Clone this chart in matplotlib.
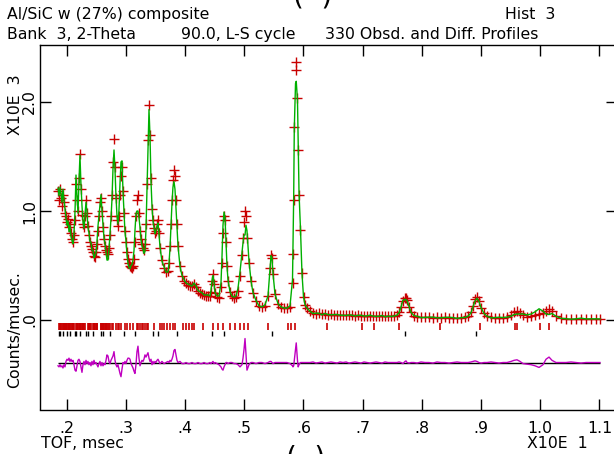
import matplotlib
matplotlib.use("Agg")
import matplotlib.pyplot as plt
import numpy as np

# ---------------- data ----------------
tof = [
    0.1855, 0.1872, 0.1889, 0.1905, 0.1922, 0.1939, 0.1956, 0.1973, 0.1990, 0.2007,
    0.2024, 0.2041, 0.2057, 0.2074, 0.2091, 0.2108, 0.2125, 0.2142, 0.2159, 0.2176,
    0.2193, 0.2209, 0.2226, 0.2243, 0.2260, 0.2277, 0.2294, 0.2311, 0.2328, 0.2345,
    0.2361, 0.2378, 0.2395, 0.2412, 0.2429, 0.2446, 0.2463, 0.2480, 0.2497, 0.2514,
    0.2530, 0.2547, 0.2564, 0.2581, 0.2598, 0.2615, 0.2632, 0.2649, 0.2666, 0.2682,
    0.2699, 0.2716, 0.2733, 0.2750, 0.2767, 0.2784, 0.2801, 0.2818, 0.2834, 0.2851,
    0.2868, 0.2885, 0.2902, 0.2919, 0.2936, 0.2953, 0.2970, 0.2986, 0.3003, 0.3020,
    0.3037, 0.3054, 0.3071, 0.3088, 0.3105, 0.3122, 0.3139, 0.3155, 0.3172, 0.3189,
    0.3206, 0.3223, 0.3240, 0.3257, 0.3274, 0.3291, 0.3307, 0.3324, 0.3341, 0.3358,
    0.3375, 0.3392, 0.3409, 0.3426, 0.3443, 0.3459, 0.3476, 0.3493, 0.3510, 0.3527,
    0.3544, 0.3561, 0.3578, 0.3611, 0.3645, 0.3679, 0.3713, 0.3730, 0.3747, 0.3764,
    0.3780, 0.3797, 0.3814, 0.3831, 0.3848, 0.3865, 0.3882, 0.3916, 0.3949, 0.3983,
    0.4017, 0.4051, 0.4084, 0.4118, 0.4152, 0.4186, 0.4220, 0.4253, 0.4287, 0.4321,
    0.4355, 0.4389, 0.4422, 0.4439, 0.4456, 0.4473, 0.4490, 0.4507, 0.4541, 0.4574,
    0.4608, 0.4625, 0.4642, 0.4659, 0.4676, 0.4693, 0.4709, 0.4726, 0.4760, 0.4794,
    0.4828, 0.4861, 0.4895, 0.4929, 0.4963, 0.4980, 0.4997, 0.5014, 0.5030, 0.5047,
    0.5081, 0.5115, 0.5149, 0.5199, 0.5250, 0.5301, 0.5351, 0.5402, 0.5436, 0.5453,
    0.5470, 0.5486, 0.5520, 0.5571, 0.5622, 0.5672, 0.5723, 0.5774, 0.5816, 0.5824,
    0.5836, 0.5846, 0.5867, 0.5879, 0.5900, 0.5912, 0.5926, 0.5951, 0.5976, 0.6002,
    0.6027, 0.6061, 0.6111, 0.6162, 0.6213, 0.6264, 0.6314, 0.6365, 0.6416, 0.6466,
    0.6517, 0.6568, 0.6618, 0.6669, 0.6720, 0.6770, 0.6821, 0.6872, 0.6922, 0.6973,
    0.7024, 0.7074, 0.7125, 0.7176, 0.7226, 0.7277, 0.7328, 0.7378, 0.7429, 0.7480,
    0.7530, 0.7581, 0.7615, 0.7649, 0.7682, 0.7716, 0.7733, 0.7750, 0.7784, 0.7818,
    0.7868, 0.7919, 0.7987, 0.8054, 0.8122, 0.8189, 0.8257, 0.8324, 0.8392, 0.8459,
    0.8527, 0.8595, 0.8662, 0.8730, 0.8780, 0.8831, 0.8865, 0.8899, 0.8932, 0.8966,
    0.9000, 0.9051, 0.9101, 0.9169, 0.9236, 0.9304, 0.9372, 0.9439, 0.9507, 0.9557,
    0.9608, 0.9659, 0.9709, 0.9777, 0.9845, 0.9912, 0.9980, 1.0047, 1.0098, 1.0149,
    1.0199, 1.0267, 1.0351, 1.0436, 1.0520, 1.0605, 1.0689, 1.0774, 1.0858, 1.0943,
    1.1010,
]

obs = [
    1.18, 1.10, 1.20, 1.12, 1.05, 1.15, 1.08, 0.98, 0.95, 0.90,
    0.93, 0.85, 0.88, 0.80, 0.74, 0.72, 0.78, 0.92, 1.25, 1.10,
    1.00, 1.30, 1.52, 1.20, 0.96, 0.88, 0.85, 0.95, 1.10, 0.98,
    0.86, 0.78, 0.72, 0.68, 0.65, 0.62, 0.59, 0.58, 0.62, 0.70,
    0.82, 0.95, 1.08, 1.12, 1.00, 0.85, 0.74, 0.68, 0.64, 0.62,
    0.61, 0.66, 0.78, 0.95, 1.15, 1.45, 1.66, 1.40, 1.12, 0.92,
    0.86, 0.95, 1.15, 1.32, 1.40, 1.18, 0.98, 0.82, 0.72, 0.62,
    0.56, 0.52, 0.50, 0.49, 0.48, 0.50, 0.56, 0.72, 0.95, 1.10,
    1.15, 0.98, 0.82, 0.74, 0.70, 0.66, 0.64, 0.70, 0.88, 1.25,
    1.65, 1.97, 1.70, 1.30, 1.02, 0.92, 0.84, 0.80, 0.82, 0.88,
    0.92, 0.80, 0.66, 0.55, 0.48, 0.44, 0.45, 0.52, 0.68, 0.88,
    1.10, 1.28, 1.38, 1.32, 1.10, 0.88, 0.68, 0.50, 0.40, 0.36,
    0.34, 0.32, 0.31, 0.31, 0.33, 0.30, 0.27, 0.25, 0.24, 0.23,
    0.22, 0.22, 0.22, 0.26, 0.36, 0.42, 0.33, 0.25, 0.21, 0.20,
    0.30, 0.52, 0.80, 0.95, 0.92, 0.72, 0.50, 0.36, 0.26, 0.22,
    0.20, 0.21, 0.27, 0.40, 0.60, 0.75, 0.90, 1.00, 0.95, 0.75,
    0.52, 0.36, 0.25, 0.17, 0.13, 0.12, 0.13, 0.22, 0.48, 0.60,
    0.57, 0.42, 0.24, 0.15, 0.12, 0.11, 0.11, 0.12, 0.34, 0.61,
    1.10, 1.77, 2.29, 2.37, 2.04, 1.56, 1.15, 0.83, 0.43, 0.21,
    0.14, 0.11, 0.08, 0.065, 0.058, 0.062, 0.052, 0.056, 0.049, 0.053,
    0.049, 0.046, 0.049, 0.044, 0.046, 0.042, 0.045, 0.041, 0.043, 0.039,
    0.041, 0.038, 0.040, 0.036, 0.038, 0.035, 0.037, 0.034, 0.036, 0.033,
    0.036, 0.045, 0.070, 0.120, 0.170, 0.200, 0.200, 0.180, 0.120, 0.070,
    0.040, 0.030, 0.027, 0.024, 0.026, 0.022, 0.025, 0.021, 0.024, 0.020,
    0.023, 0.020, 0.022, 0.024, 0.035, 0.070, 0.130, 0.190, 0.210, 0.170,
    0.110, 0.060, 0.035, 0.025, 0.022, 0.021, 0.023, 0.026, 0.045, 0.070,
    0.080, 0.065, 0.045, 0.032, 0.035, 0.045, 0.058, 0.062, 0.085, 0.100,
    0.080, 0.035, 0.015, 0.012, 0.013, 0.011, 0.012, 0.010, 0.011, 0.010,
    0.010,
]

diff = [
    -0.03, -0.04, -0.02, -0.04, -0.03, -0.05, -0.02, -0.04, 0.01, 0.03,
    0.02, 0.04, 0.01, 0.03, 0.01, 0.02, -0.02, -0.07, -0.08, -0.03,
    0.02, 0.03, 0.01, -0.04, -0.09, -0.02, 0.01, -0.02, 0.02, -0.01,
    0.01, -0.02, 0.00, -0.03, 0.01, -0.02, 0.02, -0.01, 0.00, -0.02,
    -0.04, -0.01, 0.01, -0.03, 0.00, -0.03, -0.01, -0.02, 0.02, 0.07,
    0.06, 0.01, -0.01, 0.02, 0.04, 0.06, 0.10, 0.02, -0.02, -0.04,
    -0.02, -0.06, -0.10, -0.13, -0.06, 0.00, -0.01, 0.01, -0.01, 0.02,
    0.04, 0.04, 0.03, -0.01, -0.03, -0.05, -0.08, -0.10, -0.02, 0.10,
    0.15, 0.04, -0.03, 0.00, 0.02, 0.01, 0.03, 0.07, 0.05, 0.07,
    0.09, 0.04, 0.01, 0.03, -0.02, 0.01, -0.01, 0.01, 0.00, 0.02,
    0.03, 0.01, -0.01, 0.01, -0.01, 0.00, 0.01, 0.00, 0.02, 0.01,
    0.03, 0.06, 0.11, 0.12, 0.07, 0.02, 0.00, 0.01, -0.01, -0.01,
    0.00, -0.01, -0.01, 0.00, -0.01, -0.01, 0.00, -0.01, -0.01, 0.00,
    -0.01, -0.01, 0.00, -0.01, 0.00, 0.01, -0.01, 0.00, -0.01, -0.02,
    -0.04, -0.06, -0.07, -0.04, -0.02, 0.00, 0.00, -0.01, 0.00, 0.00,
    -0.01, -0.01, -0.02, -0.04, -0.02, 0.04, 0.12, 0.22, 0.08, -0.07,
    -0.02, 0.00, 0.00, -0.01, 0.00, 0.00, -0.01, 0.00, 0.01, 0.01,
    0.00, -0.01, 0.00, 0.00, 0.00, 0.00, 0.00, -0.01, -0.03, -0.04,
    -0.03, 0.02, 0.12, 0.18, 0.02, -0.04, -0.02, 0.00, 0.00, 0.00,
    0.00, 0.00, 0.00, 0.005, -0.005, 0.00, 0.005, -0.005, 0.00, 0.005,
    0.00, -0.005, 0.005, 0.00, 0.005, -0.005, 0.00, 0.005, 0.00, -0.005,
    0.005, 0.00, -0.005, 0.00, 0.005, 0.00, -0.005, 0.005, 0.00, 0.00,
    0.00, 0.00, 0.005, 0.00, -0.01, 0.01, 0.015, 0.00, -0.005, 0.00,
    0.00, -0.005, 0.005, 0.00, 0.00, -0.005, 0.005, 0.00, 0.00, -0.005,
    0.00, 0.005, 0.00, 0.00, 0.00, 0.005, 0.01, 0.015, 0.01, 0.00,
    -0.005, 0.00, 0.00, 0.005, 0.00, -0.005, 0.00, 0.00, 0.01, 0.02,
    0.025, 0.01, -0.01, -0.015, -0.02, -0.03, -0.045, -0.02, 0.03, 0.05,
    0.02, 0.00, 0.00, 0.00, 0.005, 0.00, -0.005, 0.00, 0.00, 0.00,
    0.00,
]

# reflection positions (phase 1: red ticks, phase 2: black ticks)
refl_phase1 = [
    0.1872, 0.1884, 0.1897, 0.1910, 0.1922, 0.1935, 0.1948, 0.1960, 0.1973, 0.1986,
    0.1998, 0.2011, 0.2024, 0.2036, 0.2049, 0.2062, 0.2074, 0.2087, 0.2100, 0.2112,
    0.2125, 0.2159, 0.2172, 0.2184, 0.2197, 0.2209, 0.2222, 0.2235, 0.2248, 0.2260,
    0.2273, 0.2285, 0.2298, 0.2311, 0.2361, 0.2374, 0.2387, 0.2399, 0.2412, 0.2446,
    0.2459, 0.2471, 0.2484, 0.2497, 0.2510, 0.2522, 0.2573, 0.2586, 0.2598, 0.2611,
    0.2623, 0.2636, 0.2649, 0.2661, 0.2674, 0.2687, 0.2699, 0.2712, 0.2725, 0.2762,
    0.2789, 0.2834, 0.2863, 0.2890, 0.2919, 0.2986, 0.3025, 0.3071, 0.3117, 0.3184,
    0.3211, 0.3240, 0.3269, 0.3296, 0.3324, 0.3353, 0.3380, 0.3481, 0.3578, 0.3606,
    0.3645, 0.3691, 0.3747, 0.3802, 0.3831, 0.3971, 0.4017, 0.4073, 0.4113, 0.4152,
    0.4309, 0.4478, 0.4552, 0.4637, 0.4760, 0.4845, 0.4929, 0.4997, 0.5069, 0.5407,
    0.5745, 0.5786, 0.5858, 0.6394, 0.6985, 0.7193, 0.7615, 0.8307, 0.8983, 0.9574,
    0.9603, 0.9997, 1.0154,
]
refl_phase2 = [
    0.1876, 0.1889, 0.1932, 0.2014, 0.2066, 0.2144, 0.2166, 0.2231, 0.2331, 0.2358,
    0.2444, 0.2576, 0.2613, 0.2733, 0.2976, 0.3155, 0.3459, 0.3548, 0.3866, 0.4456,
    0.4659, 0.5470, 0.7716, 0.8916,
]

xticks = [0.2, 0.3, 0.4, 0.5, 0.6, 0.7, 0.8, 0.9, 1.0, 1.1]
xtick_labels = [".2", ".3", ".4", ".5", ".6", ".7", ".8", ".9", "1.0", "1.1"]
yticks = [0.0, 1.0, 2.0]
ytick_labels = [".0", "1.0", "2.0"]

title1 = "Al/SiC w (27%) composite"
hist_label = "Hist  3"
title2a = "Bank  3, 2-Theta"
title2b = "90.0, L-S cycle"
title2c = "330 Obsd. and Diff. Profiles"
xlabel = "TOF, msec"
xscale_label = "X10E  1"
yscale_label = "X10E  3"
ylabel = "Counts/musec."

# ---------------- styling ----------------
RED = "#c80000"
GREEN = "#00b000"
MAGENTA = "#c000c0"
DIFF_OFFSET = -0.39

plt.rcParams["font.family"] = ["DejaVu Sans"]
FS = 11.3

W, H = 614, 454
fig = plt.figure(figsize=(W / 100, H / 100), dpi=100)
fig.patch.set_facecolor("white")


def fx(px):
    return px / W


def fy(py):
    return 1 - py / H


ax = fig.add_axes([fx(40), fy(409.5), (617 - 40) / W, (409.5 - 45) / H])
ax.set_xlim(0.1551, 1.1297)
ax.set_ylim(-0.821, 2.523)

tof_a = np.array(tof)
obs_a = np.array(obs)
diff_a = np.array(diff)
calc_a = obs_a - diff_a

ax.plot(tof_a, obs_a, linestyle="none", marker="+", color=RED, ms=6.5, mew=1.0, zorder=2)
ax.plot(tof_a, calc_a, color=GREEN, lw=1.0, zorder=3)

ax.vlines(refl_phase1, -0.092, -0.030, color=RED, lw=1.2, zorder=2)
ax.vlines(refl_phase2, -0.145, -0.098, color="black", lw=1.0, zorder=2)

ax.hlines(DIFF_OFFSET, tof_a[0], tof_a[-1], color="black", lw=1.0, zorder=2)
ax.plot(tof_a, diff_a + DIFF_OFFSET, color=MAGENTA, lw=1.0, zorder=3)

ax.set_xticks(xticks)
ax.set_xticklabels(xtick_labels)
ax.set_yticks(yticks)
ax.set_yticklabels(ytick_labels, rotation=90, va="center")
ax.tick_params(axis="both", direction="in", length=8, width=1.0, top=True, right=True,
               labelsize=FS, colors="black")
ax.tick_params(axis="x", pad=8)
ax.tick_params(axis="y", pad=2)
for s in ax.spines.values():
    s.set_linewidth(1.0)
    s.set_color("black")

# header and labels
fig.text(fx(7), fy(19), title1, fontsize=FS, va="baseline", ha="left")
fig.text(fx(505), fy(19), hist_label, fontsize=FS, va="baseline", ha="left")
fig.text(fx(7), fy(39), title2a, fontsize=FS, va="baseline", ha="left")
fig.text(fx(181), fy(39), title2b, fontsize=FS, va="baseline", ha="left")
fig.text(fx(325), fy(39), title2c, fontsize=FS, va="baseline", ha="left")
fig.text(fx(41), fy(448), xlabel, fontsize=FS, va="baseline", ha="left")
fig.text(fx(527), fy(448), xscale_label, fontsize=FS, va="baseline", ha="left")
fig.text(fx(15), fy(105), yscale_label, fontsize=FS, va="center", ha="center", rotation=90)
fig.text(fx(15), fy(330), ylabel, fontsize=FS, va="center", ha="center", rotation=90)

# caption brackets, clipped by the top and bottom edges as in the reference
fig.text(fx(313), fy(4), "(  )", fontsize=20, va="baseline", ha="center")
fig.text(fx(306), fy(466), "(  )", fontsize=20, va="baseline", ha="center")

fig.savefig("out.png", dpi=100)
